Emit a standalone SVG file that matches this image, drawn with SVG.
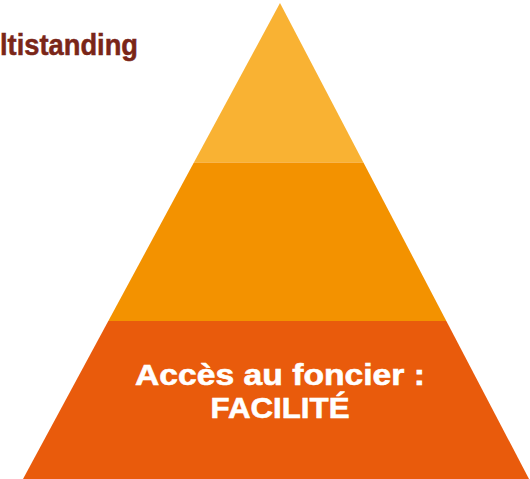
<svg xmlns="http://www.w3.org/2000/svg" width="530" height="479" viewBox="0 0 530 479">
<style>
.t{font-family:"Liberation Sans",Arial,sans-serif;font-weight:bold}
.w{fill:#ffffff;font-size:30px;stroke:#ffffff;stroke-width:0.6}
</style>
<defs>
<clipPath id="pyr"><polygon points="280,3 23,479 529,479"/></clipPath>
</defs>
<rect width="530" height="479" fill="#ffffff"/>
<g id="top-label">
<text class="t" x="0" y="54.5" font-size="29" fill="#7A2618" stroke="#7A2618" stroke-width="0.5" textLength="138" lengthAdjust="spacingAndGlyphs">ltistanding</text>
</g>
<g clip-path="url(#pyr)">
<g id="level-top"><rect x="0" y="0" width="530" height="162.5" fill="#F9B233"/></g>
<g id="level-middle"><rect x="0" y="162.5" width="530" height="158.5" fill="#F39200"/></g>
<g id="level-bottom"><rect x="0" y="321" width="530" height="158" fill="#E95B0C"/></g>
</g>
<g id="connectors"></g>
<g id="bottom-label">
<text class="t w" x="280" y="384.5" text-anchor="middle" textLength="290" lengthAdjust="spacingAndGlyphs">Accès au foncier :</text>
<text class="t w" x="280" y="417.5" text-anchor="middle" textLength="139" lengthAdjust="spacingAndGlyphs">FACILITÉ</text>
</g>
</svg>
